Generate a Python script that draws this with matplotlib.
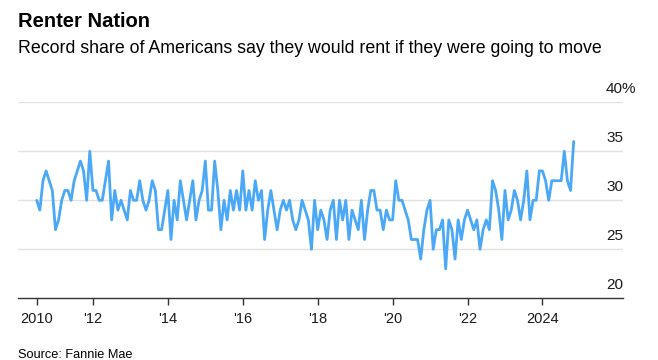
import numpy as np
import matplotlib
matplotlib.use('Agg')
import matplotlib.pyplot as plt
import matplotlib.transforms as mtransforms

plt.rcParams['font.family'] = ['Liberation Sans', 'DejaVu Sans']

# monthly share (%) saying they would rent, Jul 2010 - Nov 2024
start_year = 2010.5
rent_share = [
    30, 29, 32, 33, 32, 31, 27, 28, 30, 31, 31, 30, 32, 33, 34, 33, 30, 35,
    31, 31, 30, 30, 32, 34, 28, 31, 29, 30, 29, 28, 31, 30, 30, 32, 30, 29,
    30, 32, 31, 27, 27, 29, 31, 26, 30, 28, 32, 30, 28, 30, 32, 28, 30, 31,
    34, 29, 29, 34, 31, 27, 30, 28, 31, 29, 31, 29, 33, 29, 31, 29, 32, 30,
    31, 26, 29, 31, 29, 27, 29, 30, 29, 30, 28, 27, 28, 30, 29, 28, 25, 30,
    27, 29, 28, 26, 29, 30, 26, 30, 28, 30, 26, 29, 28, 27, 30, 26, 29, 31,
    31, 29, 29, 27, 29, 28, 28, 32, 30, 30, 29, 28, 26, 26, 26, 24, 27, 29,
    30, 25, 27, 27, 28, 23, 28, 27, 24, 28, 26, 28, 29, 28, 27, 28, 25, 27,
    28, 27, 32, 31, 29, 26, 31, 28, 29, 31, 30, 28, 30, 33, 28, 30, 30, 33,
    33, 32, 30, 32, 32, 32, 32, 35, 32, 31, 36,
]
years = start_year + np.arange(len(rent_share)) / 12

xtick_pos = [start_year, 2012, 2014, 2016, 2018, 2020, 2022, 2024]
xtick_labels = ['2010', "'12", "'14", "'16", "'18", "'20", "'22", '2024']
ytick_vals = [20, 25, 30, 35, 40]

fig = plt.figure(figsize=(6.58, 3.6), dpi=100)
ax = fig.add_axes([18 / 658, 1 - 298.3 / 360, 605 / 658, 196 / 360])

ax.plot(years, rent_share, color='#4ba8f6', lw=2.0,
        solid_joinstyle='round', solid_capstyle='round', zorder=3)

ax.set_xlim(2010.0, 2026.15)
ax.set_ylim(20, 40)

for v in ytick_vals[1:]:
    ax.axhline(v, color='#e1e1e1', lw=1.0, zorder=1)

# y labels sit above the gridlines, right aligned; the % of the top one hangs out
trans = mtransforms.offset_copy(ax.get_yaxis_transform(), fig=fig, x=0, y=6, units='dots')
trans_top = mtransforms.offset_copy(ax.get_yaxis_transform(), fig=fig, x=13, y=6, units='dots')
for v in ytick_vals[:-1]:
    ax.text(1.0, v, str(v), transform=trans, ha='right', va='bottom',
            fontsize=11, color='#1a1a1a')
ax.text(1.0, ytick_vals[-1], f'{ytick_vals[-1]}%', transform=trans_top,
        ha='right', va='bottom', fontsize=11, color='#1a1a1a')

ax.set_yticks([])
ax.set_xticks(xtick_pos)
ax.set_xticklabels(xtick_labels, fontsize=10.5, color='#1a1a1a')
ax.tick_params(axis='x', length=5, width=1, color='#333333', pad=5)

for s in ['top', 'right', 'left']:
    ax.spines[s].set_visible(False)
ax.spines['bottom'].set_color('#333333')
ax.spines['bottom'].set_linewidth(1)

fig.text(18 / 658, 1 - 27 / 360, 'Renter Nation', fontsize=14.5,
         fontweight='bold', color='#000000', va='baseline')
fig.text(18 / 658, 1 - 53 / 360,
         'Record share of Americans say they would rent if they were going to move',
         fontsize=12.8, color='#000000', va='baseline')
fig.text(18 / 658, 1 - 358 / 360, 'Source: Fannie Mae', fontsize=9.2,
         color='#000000', va='baseline')

fig.savefig('out.png', dpi=100)
